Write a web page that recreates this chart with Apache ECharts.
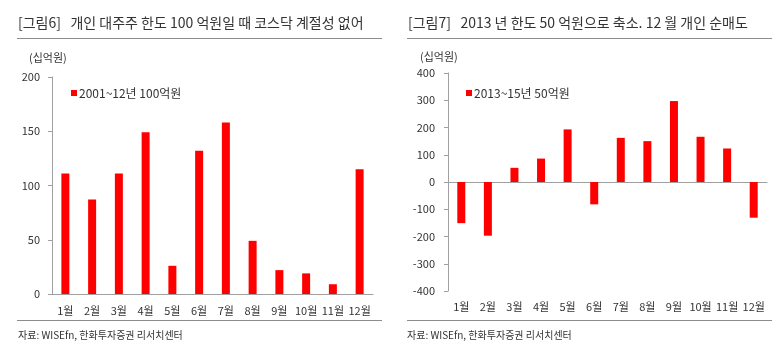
<!DOCTYPE html>
<html><head><meta charset="utf-8">
<script src="https://cdn.jsdelivr.net/npm/echarts@6/dist/echarts.min.js"></script>
<style>html,body{margin:0;padding:0;background:#fff}#c{width:780px;height:358px}</style>
</head><body><div id="c"></div>
<script>
const months = ['1월','2월','3월','4월','5월','6월','7월','8월','9월','10월','11월','12월'];
const leftValues = [111, 87, 111, 149, 26, 132, 158, 49, 22, 19, 9, 115];
const rightValues = [-151, -197, 52, 86, 193, -82, 162, 150, 297, 166, 123, -131];
const leftName = '2001~12년 100억원';
const rightName = '2013~15년 50억원';
const leftTitle = '[그림6]   개인 대주주 한도 100 억원일 때 코스닥 계절성 없어';
const rightTitle = '[그림7]   2013 년 한도 50 억원으로 축소. 12 월 개인 순매도';
const unitText = '(십억원)';
const sourceText = '자료: WISEfn, 한화투자증권 리서치센터';

const FONT = '"Noto Sans CJK KR", "Noto Sans", sans-serif';
const TXT = '#333';
const AX = '#a0a0a0';
const chart = echarts.init(document.getElementById('c'));

function hline(x1, x2, y) {
  return {type:'line', shape:{x1:x1, y1:y, x2:x2, y2:y}, style:{stroke:'#8c8c8c', lineWidth:1}, silent:true};
}
function txt(x, y, s, size) {
  return {type:'text', x:x, y:y, style:{text:s, fill:TXT, font: size + 'px ' + FONT, textVerticalAlign:'middle'}, silent:true};
}
const yLabel = {color:TXT, fontSize:11, fontFamily:FONT, margin:12};
const xLabel = {color:TXT, fontSize:11, fontFamily:FONT, margin:11, interval:0};

chart.setOption({
  animation:false,
  textStyle:{fontFamily:FONT},
  grid:[
    {left:52, top:77, width:321, height:217},
    {left:448, top:73, width:319, height:218}
  ],
  legend:[
    {data:[leftName], left:66, top:82, itemWidth:6, itemHeight:6, itemGap:0, icon:'rect',
     textStyle:{color:TXT, fontSize:12, fontFamily:FONT, padding:[0,0,0,-3]}},
    {data:[rightName], left:461, top:82, itemWidth:6, itemHeight:6, itemGap:0, icon:'rect',
     textStyle:{color:TXT, fontSize:12, fontFamily:FONT, padding:[0,0,0,-3]}}
  ],
  xAxis:[
    {type:'category', gridIndex:0, data:months, axisLine:{lineStyle:{color:AX}}, axisTick:{show:false}, axisLabel:xLabel},
    {type:'category', gridIndex:1, data:months, axisLine:{onZero:true, lineStyle:{color:AX}}, axisTick:{show:false}, axisLabel:{show:false}},
    {type:'category', gridIndex:1, data:months, position:'bottom', axisLine:{show:false, onZero:false}, axisTick:{show:false}, axisLabel:Object.assign({}, xLabel, {margin:10})}
  ],
  yAxis:[
    {type:'value', gridIndex:0, min:0, max:200, interval:50, splitLine:{show:false},
     axisLine:{show:true, lineStyle:{color:AX}}, axisTick:{show:true, length:4, lineStyle:{color:AX}}, axisLabel:yLabel},
    {type:'value', gridIndex:1, min:-400, max:400, interval:100, splitLine:{show:false},
     axisLine:{show:true, lineStyle:{color:AX}}, axisTick:{show:true, length:4, lineStyle:{color:AX}}, axisLabel:Object.assign({}, yLabel, {margin:13})}
  ],
  series:[
    {name:leftName, type:'bar', xAxisIndex:0, yAxisIndex:0, data:leftValues, barWidth:8, itemStyle:{color:'#ff0000'}},
    {name:rightName, type:'bar', xAxisIndex:1, yAxisIndex:1, data:rightValues, barWidth:8, itemStyle:{color:'#ff0000'}}
  ],
  graphic:[
    txt(18, 23, leftTitle, 14),
    txt(408, 23, rightTitle, 14),
    hline(17, 382, 38.5),
    hline(407, 772, 38.5),
    txt(29, 58, unitText, 11),
    txt(420, 57, unitText, 11),
    hline(17, 382, 320.5),
    hline(407, 772, 320.5),
    txt(18, 335, sourceText, 10),
    txt(407, 335, sourceText, 10)
  ]
});
</script></body></html>
